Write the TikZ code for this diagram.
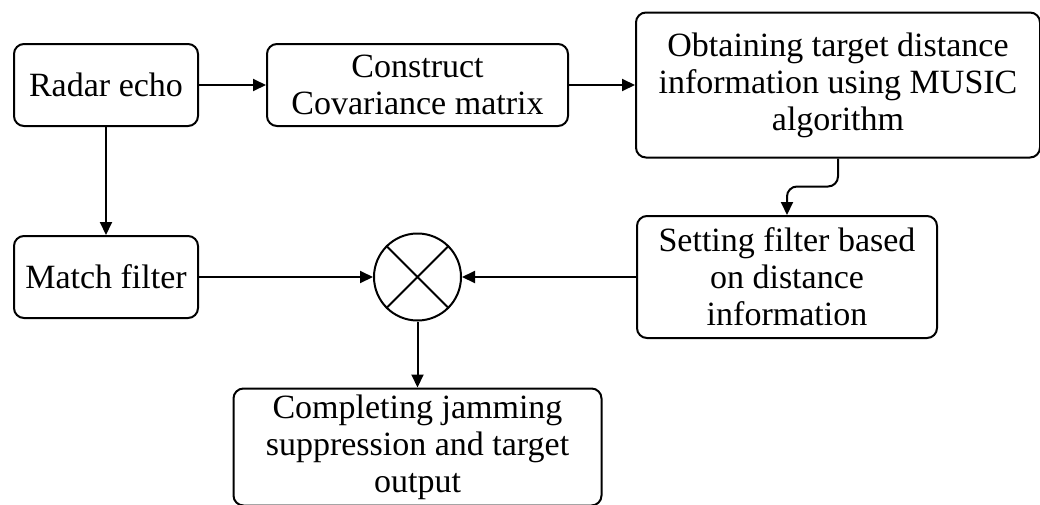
\documentclass[tikz,border=0pt]{standalone}
\usepackage{fontspec}
\setmainfont{Liberation Serif}
\usetikzlibrary{arrows.meta,positioning}

\begin{document}
\begin{tikzpicture}[
    x=0.5pt, y=-0.5pt,
    font=\fontsize{17}{18.5}\selectfont,
    >={Triangle[length=6.5pt,width=6pt]},
    blk/.style={rectangle, rounded corners=5pt, draw, line width=1pt,
      align=center, inner sep=2pt},
    flow/.style={->, line width=1pt},
    mixer/.style={circle, draw, line width=1pt, minimum size=43.5pt, inner sep=0pt}]

    \useasboundingbox (0,0) rectangle (1040,504);

    % top row
    \node[blk, minimum width=92pt, minimum height=41pt] (echo) at (106,85) {Radar echo};
    \node[blk, minimum width=150.5pt, minimum height=41pt, right=33.5pt of echo]
      (cov) {Construct\\Covariance matrix};
    \node[blk, minimum width=202pt, minimum height=72.5pt, right=33pt of cov]
      (music) {Obtaining target distance\\information using MUSIC\\algorithm};

    % middle row
    \node[blk, minimum width=92pt, minimum height=41pt, below=54pt of echo]
      (match) {Match filter};
    \node[mixer, right=87pt of match] (mix) {};
    \node[blk, minimum width=150pt, minimum height=61pt, inner sep=1pt, right=87pt of mix]
      (set) {Setting filter based\\on distance\\information};

    % output
    \node[blk, minimum width=184pt, minimum height=58.5pt, inner sep=1pt, below=33pt of mix]
      (done) {Completing jamming\\suppression and target\\output};

    \draw[line width=1pt] (mix.45) -- (mix.225) (mix.135) -- (mix.-45);

    \draw[flow] (echo) -- (cov);
    \draw[flow] (cov) -- (music);
    \draw[flow] (echo) -- (match);
    \draw[flow] (match) -- (mix);
    \draw[flow] (set) -- (mix);
    \draw[flow] (mix) -- (done);
    \draw[flow, rounded corners=5pt] (music.south) -- ++(0,-14pt) -| (set.north);
\end{tikzpicture}
\end{document}
